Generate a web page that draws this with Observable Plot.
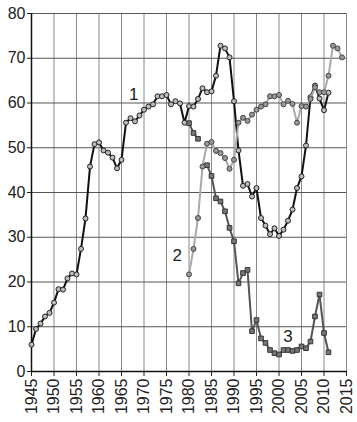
<!DOCTYPE html>
<html><head><meta charset="utf-8">
<script src="https://cdn.jsdelivr.net/npm/d3@7"></script>
<script src="https://cdn.jsdelivr.net/npm/@observablehq/plot@0.6"></script>
<style>html,body{margin:0;padding:0;background:#fff;}</style>
</head><body><div id="chart"></div>
<script>
// Series 1: 1945–2011
const years1 = d3.range(1945, 2012);
const values1 = [6.0, 9.5, 10.7, 12.3, 13.1, 15.4, 18.4, 18.3, 20.8, 21.9,
  21.7, 27.4, 34.2, 45.8, 50.8, 51.2, 49.4, 48.9, 47.8, 45.4,
  47.3, 55.6, 56.6, 55.9, 57.2, 58.5, 59.2, 59.7, 61.5, 61.5,
  61.8, 59.7, 60.4, 59.9, 55.6, 59.3, 59.2, 60.9, 63.3, 62.4,
  62.6, 66.1, 72.8, 72.2, 70.2, 60.4, 49.4, 41.5, 41.9, 39.1,
  41.0, 34.3, 32.6, 30.7, 32.0, 30.3, 31.7, 33.7, 36.2, 41.0,
  43.6, 50.5, 61.3, 63.9, 61.0, 58.4, 62.3];
// Series 2: 1980–2014
const years2 = d3.range(1980, 2015);
const values2 = [21.7, 27.4, 34.3, 45.8, 50.9, 51.3, 49.3, 48.8, 47.7, 45.3,
  47.3, 55.6, 56.7, 56.0, 57.4, 58.5, 59.2, 59.7, 61.5, 61.5,
  61.8, 59.7, 60.5, 59.8, 55.6, 59.3, 59.2, 60.9, 63.5, 62.4,
  62.4, 66.1, 72.8, 72.2, 70.2];
// Series 3: 1980–2011 (gap in 1983)
const years3 = d3.range(1980, 2012);
const values3 = [55.5, 53.3, 52.0, null, 46.1, 43.7, 38.7, 38.0, 35.8, 32.1,
  29.1, 19.7, 22.0, 22.7, 9.0, 11.5, 7.4, 6.4, 4.8, 4.1,
  3.8, 4.8, 4.8, 4.6, 4.8, 5.6, 5.2, 6.7, 12.3, 17.2,
  8.6, 4.3];
// Series labels
const labelText = ["1", "2", "3"];
const labelX = [1967.7, 1977.4, 2002.0];
const labelY = [61.9, 25.9, 7.8];
// Tick values
const xTicks = [1945, 1950, 1955, 1960, 1965, 1970, 1975, 1980, 1985, 1990, 1995, 2000, 2005, 2010, 2015];
const yTicks = [0, 10, 20, 30, 40, 50, 60, 70, 80];

const s1 = years1.map((x, i) => ({x, y: values1[i]}));
const s2 = years2.map((x, i) => ({x, y: values2[i]}));
const s3 = years3.map((x, i) => ({x, y: values3[i]}));
const labels = labelText.map((t, i) => ({t, x: labelX[i], y: labelY[i]}));

const chart = Plot.plot({
  width: 357,
  height: 422,
  marginLeft: 31,
  marginRight: 11,
  marginTop: 13,
  marginBottom: 51,
  style: {fontFamily: "'Liberation Sans', Arial, sans-serif", fontSize: "16px", color: "#222", background: "#fff"},
  x: {domain: [1945, 2015]},
  y: {domain: [0, 80]},
  marks: [
    Plot.gridX(xTicks, {stroke: "#888", strokeOpacity: 1}),
    Plot.gridY(yTicks, {stroke: "#555", strokeOpacity: 1}),
    Plot.axisY(yTicks, {tickSize: 4, tickPadding: 2, fontSize: 16, label: null, tickFormat: d => String(d), stroke: "#222"}),
    Plot.axisX(xTicks, {tickSize: 5, tickPadding: 2, tickRotate: -90, fontSize: 16, label: null, tickFormat: d => String(d), stroke: "#222"}),
    Plot.ruleX([1945], {stroke: "#111", strokeWidth: 1.5}),
    Plot.ruleY([0], {stroke: "#111", strokeWidth: 1.5}),
    Plot.line(s3, {x: "x", y: "y", stroke: "#555", strokeWidth: 2}),
    Plot.dot(s3, {x: "x", y: "y", symbol: "square", r: 2.6, fill: "#777", stroke: "#333", strokeWidth: 1}),
    Plot.line(s1, {x: "x", y: "y", stroke: "#111", strokeWidth: 2}),
    Plot.dot(s1, {x: "x", y: "y", r: 2.5, fill: "#bbb", stroke: "#222", strokeWidth: 1}),
    Plot.line(s2, {x: "x", y: "y", stroke: "#aaa", strokeWidth: 2}),
    Plot.dot(s2, {x: "x", y: "y", r: 2.5, fill: "#999", stroke: "#444", strokeWidth: 1}),
    Plot.text(labels, {x: "x", y: "y", text: "t", fontSize: 17, fill: "#222"})
  ]
});
document.getElementById("chart").appendChild(chart);
</script>
</body></html>
